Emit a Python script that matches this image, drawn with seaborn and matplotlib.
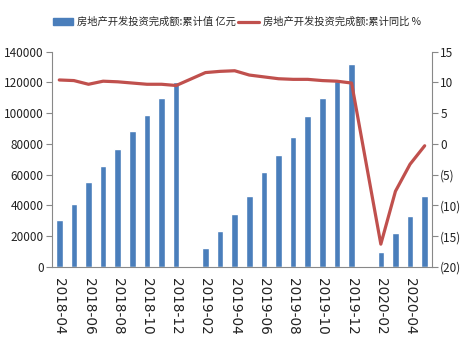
import numpy as np
import pandas as pd
import matplotlib
matplotlib.use("Agg")
import matplotlib.pyplot as plt
import seaborn as sns
from matplotlib.patches import Patch
from matplotlib.lines import Line2D
from matplotlib.ticker import FuncFormatter

months = ["2018-04", "2018-05", "2018-06", "2018-07", "2018-08", "2018-09", "2018-10",
          "2018-11", "2018-12", "2019-01", "2019-02", "2019-03", "2019-04", "2019-05",
          "2019-06", "2019-07", "2019-08", "2019-09", "2019-10", "2019-11", "2019-12",
          "2020-01", "2020-02", "2020-03", "2020-04", "2020-05"]
invest = [30500, 41000, 55500, 65500, 76500, 88500, 99000, 110000, 120000, np.nan,
          12000, 23500, 34500, 46000, 61500, 72500, 84500, 98000, 110000, 121000, 132000,
          np.nan, 10000, 22000, 33000, 46000]
yoy = [10.4, 10.3, 9.7, 10.2, 10.1, 9.9, 9.7, 9.7, 9.5, np.nan,
       11.6, 11.8, 11.9, 11.2, 10.9, 10.6, 10.5, 10.5, 10.3, 10.2, 9.9,
       np.nan, -16.3, -7.7, -3.3, -0.3]
label_bar = "房地产开发投资完成额:累计值 亿元"
label_line = "房地产开发投资完成额:累计同比 %"

sns.set_style("white")
plt.rcParams['font.family'] = ['Noto Sans CJK SC', 'DejaVu Sans']

bar_color = "#4A7EBB"
line_color = "#C0504D"

df = pd.DataFrame({"month": months, "invest": invest, "yoy": yoy})
df["pos"] = np.arange(len(df))

fig = plt.figure(figsize=(4.64, 3.40), dpi=100)
ax = fig.add_axes([0.112, 0.215, 0.819, 0.633])
sns.barplot(data=df, x="month", y="invest", order=months, color=bar_color,
            width=0.45, saturation=1, ax=ax)
ax.set_xlim(-0.5, len(months) - 0.5)
ax.set_ylim(0, 140000)
ax.set_yticks(np.arange(0, 140001, 20000))
ax.set_xlabel("")
ax.set_ylabel("")

ax2 = ax.twinx()
dl = df.dropna(subset=["yoy"])
sns.lineplot(data=dl, x="pos", y="yoy", color=line_color, linewidth=2.3, ax=ax2)
ax2.set_ylim(-20, 15)
ax2.set_yticks(np.arange(-20, 16, 5))
ax2.yaxis.set_major_formatter(FuncFormatter(lambda v, p: f"({abs(int(v))})" if v < 0 else f"{int(v)}"))
ax2.set_xlim(-0.5, len(months) - 0.5)
ax2.set_xlabel("")
ax2.set_ylabel("")

# x ticks: labels every 2 months, tick marks at category boundaries
ax.set_xticks(np.arange(0, len(months), 2))
ax.set_xticklabels(months[::2], rotation=-90, fontsize=9.8, family=['DejaVu Sans'], color="#222222")
ax.tick_params(axis="x", length=0, pad=8)
ax.set_xticks(np.arange(-0.5, len(months), 2), minor=True)
ax.tick_params(axis="x", which="minor", length=4, color="#888888", direction="out")
ax.tick_params(axis="y", length=4, color="#888888", direction="out", labelsize=8.5, labelcolor="#222222", pad=2)
ax2.tick_params(axis="y", length=4, color="#888888", direction="out", labelsize=8.5, labelcolor="#222222", pad=2)

for a in (ax, ax2):
    a.spines["top"].set_visible(False)
    for s in ("left", "right", "bottom"):
        a.spines[s].set_color("#888888")
        a.spines[s].set_linewidth(0.8)
ax.spines["right"].set_visible(False)
ax2.spines["left"].set_visible(False)
ax2.spines["bottom"].set_visible(False)
ax.grid(False)
ax2.grid(False)

handles = [Patch(facecolor=bar_color, edgecolor=bar_color),
           Line2D([0], [0], color=line_color, linewidth=2.3)]
fig.legend(handles, [label_bar, label_line], loc="center", bbox_to_anchor=(0.51, 0.935),
           ncol=2, frameon=False, fontsize=7.4, handlelength=2.0, handletextpad=0.4,
           columnspacing=0.2)

fig.savefig("out.png", dpi=100)
